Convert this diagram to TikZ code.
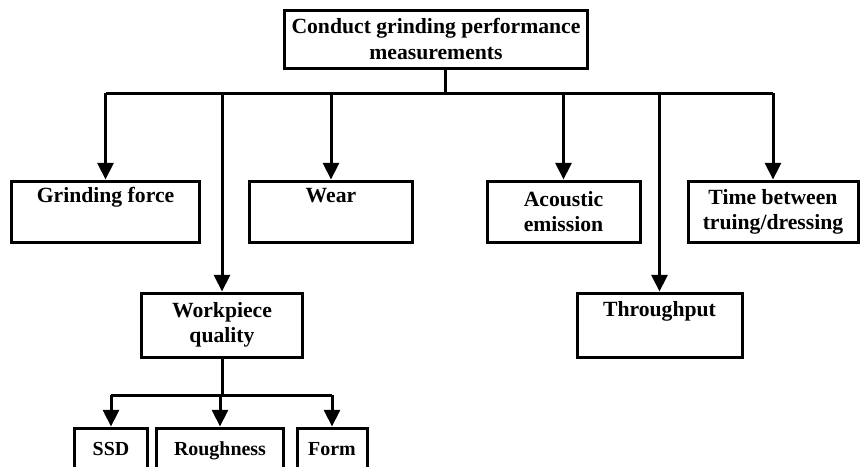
\documentclass[tikz,border=0pt]{standalone}
\usepackage{fontspec}
\setmainfont{Liberation Serif}
\usetikzlibrary{arrows.meta,calc}

\tikzset{
  box/.style={draw, line width=0.9mm, align=center, inner sep=0pt,
    font=\bfseries\fontsize{18.5}{21.5}\selectfont},
  smallbox/.style={box, text height=2.6ex, text depth=0.3ex,
    font=\bfseries\fontsize{17}{19}\selectfont},
  bus/.style={line width=0.9mm},
  arr/.style={line width=0.9mm, -{Triangle[length=5mm,width=4.8mm]}}
}

\begin{document}
\begin{tikzpicture}[x=0.03cm, y=-0.03cm]
    \useasboundingbox (0,0) rectangle (860,466);

    % Top box
    \node [box, minimum width=9.06cm, minimum height=1.74cm] (top) at (436,39)
        {Conduct grinding performance\\measurements};

    % First level
    \node [box, minimum width=5.61cm, minimum height=1.83cm] (grind) at (105.5,211.5) {Grinding force\\\strut};
    \node [box, minimum width=4.86cm, minimum height=1.83cm] (wear) at (331,211.5) {Wear\\\strut};
    \node [box, minimum width=4.59cm, minimum height=1.83cm] (acoustic) at (563.5,211.5) {Acoustic\\emission};
    \node [box, minimum width=5.1cm, minimum height=1.83cm] (truing) at (773,211.5) {Time between\\truing/dressing};
    \node [box, minimum width=4.8cm, minimum height=1.92cm] (workpiece) at (222,325) {Workpiece\\quality};
    \node [box, minimum width=4.95cm, minimum height=1.92cm] (through) at (659.5,325) {Throughput\\\strut};

    % Workpiece quality items
    \node [smallbox, minimum width=2.16cm, minimum height=1.26cm] (ssd) at (111,449) {SSD};
    \node [smallbox, minimum width=3.78cm, minimum height=1.26cm] (rough) at (220,449) {Roughness};
    \node [smallbox, minimum width=2.1cm, minimum height=1.26cm] (form) at (332,449) {Form};

    % Main bus
    \coordinate (b) at (445,93);
    \draw [bus] (top.south -| b) -- (b);
    \draw [bus] (grind.north |- b) -- (truing.north |- b);
    \foreach \n in {grind, wear, workpiece, acoustic, through, truing}
        \draw [arr] (\n.north |- b) -- (\n.north);

    % Sub bus
    \coordinate (s) at (222,395);
    \draw [bus] (workpiece.south) -- (s);
    \draw [bus] (ssd.north |- s) -- (form.north |- s);
    \foreach \n in {ssd, rough, form}
        \draw [arr] (\n.north |- s) -- (\n.north);
\end{tikzpicture}
\end{document}
